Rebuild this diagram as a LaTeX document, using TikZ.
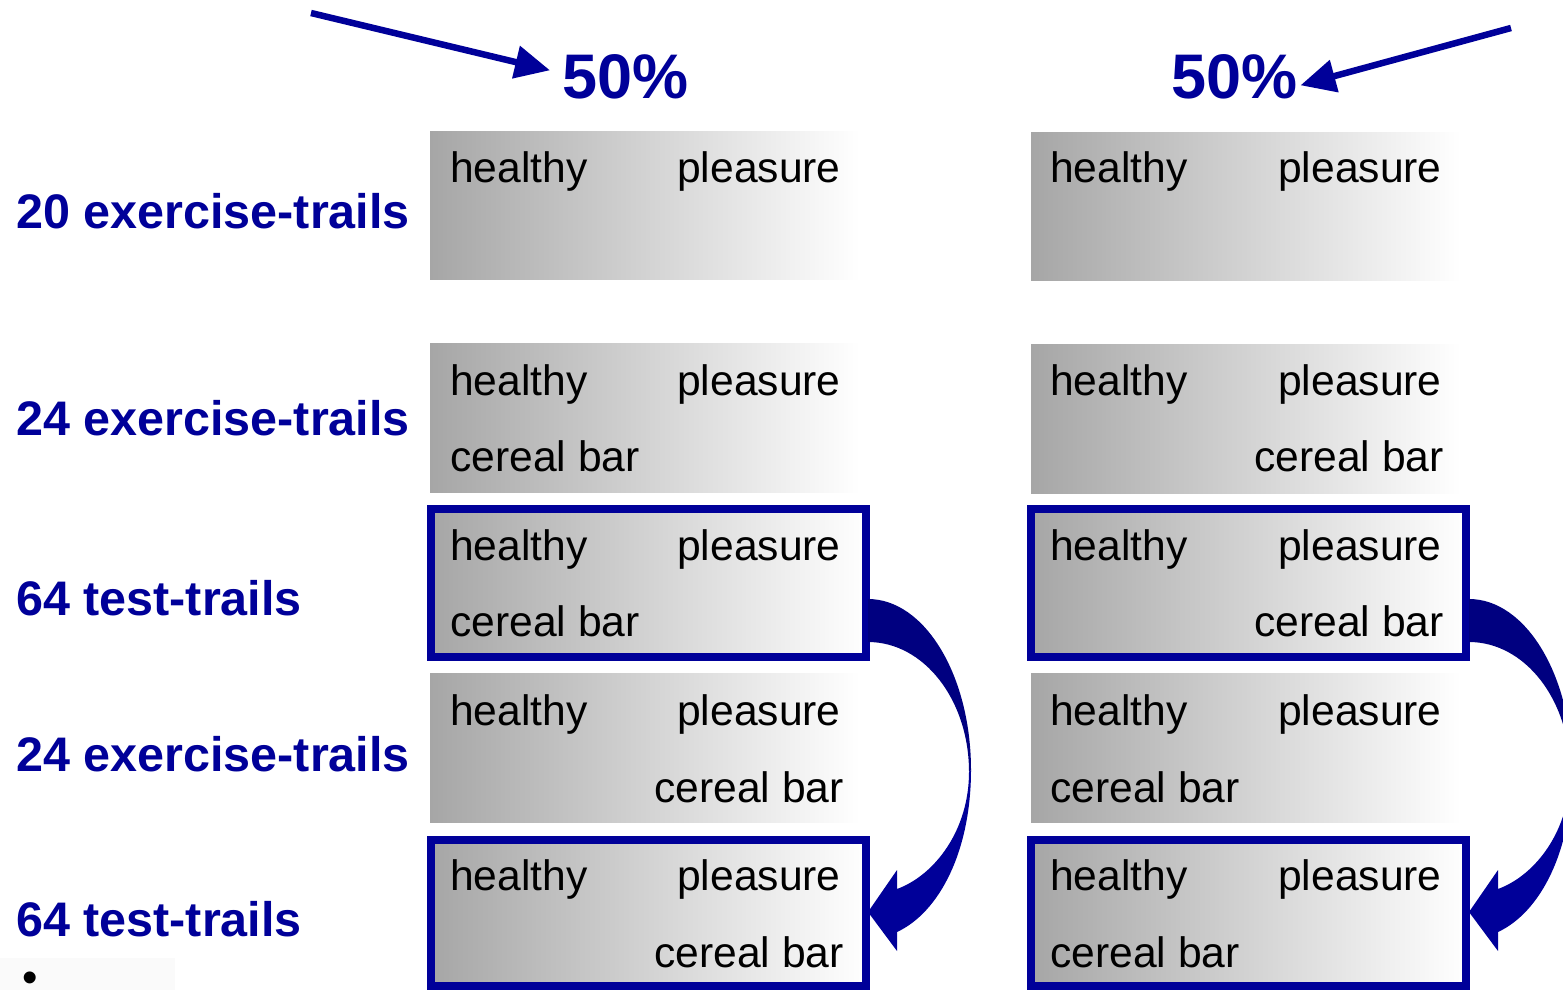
\documentclass[tikz,border=0pt]{standalone}
\usepackage{fontspec}
\setmainfont{Liberation Sans}
\usetikzlibrary{arrows.meta,calc}
\definecolor{navy}{RGB}{0,0,153}
\definecolor{darknavy}{RGB}{0,0,128}
\definecolor{gboxl}{RGB}{166,166,166}
\definecolor{faint}{RGB}{250,250,250}
\tikzset{
  gbox/.style={left color=gboxl, right color=white, inner sep=0pt, outer sep=0pt,
    anchor=north west, minimum width=430pt, minimum height=149pt},
  fbox/.style={gbox, draw=navy, line width=8pt, minimum width=434.5pt, minimum height=148.5pt},
  wtxt/.style={font=\fontsize{42.6}{50}\selectfont, inner sep=0pt, anchor=base west},
  lbl/.style={font=\fontsize{48.5}{56}\selectfont\bfseries, text=navy, inner sep=0pt, anchor=base west},
  pct/.style={font=\fontsize{63}{70}\selectfont\bfseries, text=navy, inner sep=0pt, anchor=base west},
  thinarrow/.style={draw=navy, line width=6.5pt, -{Triangle[length=35pt,width=32pt]}},
}
\begin{document}
\begin{tikzpicture}[x=1pt,y=-1pt]
\useasboundingbox (0,0) rectangle (1563,990);
\clip (0,0) rectangle (1563,990);
\fill[white] (0,0) rectangle (1563,990);

% left column boxes
\node[gbox, minimum height=148pt] (L1) at (430,131) {};
\node[gbox] (L2) at (430,343) {};
\node[fbox] (L3) at (431,508.5) {};
\node[gbox] (L4) at (430,673) {};
\node[fbox, minimum height=146pt] (L5) at (431,840) {};

% right column boxes
\node[gbox, minimum height=148pt] (R1) at (1031,132) {};
\node[gbox] (R2) at (1031,344) {};
\node[fbox] (R3) at (1031,508.5) {};
\node[gbox] (R4) at (1031,673) {};
\node[fbox, minimum height=146pt] (R5) at (1031,840) {};

% left column texts
\node[wtxt] (L1h) at (450,182) {healthy};
\node[wtxt] (L1p) at (677,182) {pleasure};
\node[wtxt] (L2h) at (450,395) {healthy};
\node[wtxt] (L2p) at (677,395) {pleasure};
\node[wtxt] (L2c) at (450,471) {cereal bar};
\node[wtxt] (L3h) at (450,560) {healthy};
\node[wtxt] (L3p) at (677,560) {pleasure};
\node[wtxt] (L3c) at (450,636) {cereal bar};
\node[wtxt] (L4h) at (450,725) {healthy};
\node[wtxt] (L4p) at (677,725) {pleasure};
\node[wtxt] (L4c) at (654,802) {cereal bar};
\node[wtxt] (L5h) at (450,890) {healthy};
\node[wtxt] (L5p) at (677,890) {pleasure};
\node[wtxt] (L5c) at (654,967) {cereal bar};

% right column texts
\node[wtxt] (R1h) at (1050,182) {healthy};
\node[wtxt] (R1p) at (1278,182) {pleasure};
\node[wtxt] (R2h) at (1050,395) {healthy};
\node[wtxt] (R2p) at (1278,395) {pleasure};
\node[wtxt] (R2c) at (1254,471) {cereal bar};
\node[wtxt] (R3h) at (1050,560) {healthy};
\node[wtxt] (R3p) at (1278,560) {pleasure};
\node[wtxt] (R3c) at (1254,636) {cereal bar};
\node[wtxt] (R4h) at (1050,725) {healthy};
\node[wtxt] (R4p) at (1278,725) {pleasure};
\node[wtxt] (R4c) at (1050,802) {cereal bar};
\node[wtxt] (R5h) at (1050,890) {healthy};
\node[wtxt] (R5p) at (1278,890) {pleasure};
\node[wtxt] (R5c) at (1050,967) {cereal bar};

% row labels
\node[lbl] (lab1) at (16,228) {20 exercise-trails};
\node[lbl] (lab2) at (16,435) {24 exercise-trails};
\node[lbl] (lab3) at (16,615) {64 test-trails};
\node[lbl] (lab4) at (16,771) {24 exercise-trails};
\node[lbl] (lab5) at (16,936) {64 test-trails};

% percentages and arrows
\node[pct] (p1) at (562,99) {50\%};
\node[pct] (p2) at (1171,99) {50\%};
\coordinate (a1) at (311,13);
\coordinate (a2) at (1511,28);
\draw[thinarrow] (a1) -- ($(p1.west)+(-12,-7)$);
\draw[thinarrow] (a2) -- ($(p2.east)+(3,8)$);

% curved block arrows
\foreach \dx/\nm in {0/L, 601/R}{
\begin{scope}[xshift=\dx pt]
\fill[darknavy] (868,599) .. controls (925,599) and (971,676) .. (971,770)
  -- (969,772) .. controls (969,700) and (924,642) .. (868,642) -- cycle;
\fill[navy] (971,770) .. controls (971,850) and (940,912) .. (897,932)
  -- (897,951) -- (868,912) -- (897,870) -- (897,889)
  .. controls (935,875) and (969,830) .. (969,772) -- cycle;
\end{scope}
}

% bottom-left remnant
\fill[faint] (0,958) rectangle (175,990);
\node[font=\fontsize{44}{50}\selectfont, inner sep=0pt, anchor=base] (bul) at (30,992) {\textbullet};
\end{tikzpicture}
\end{document}
